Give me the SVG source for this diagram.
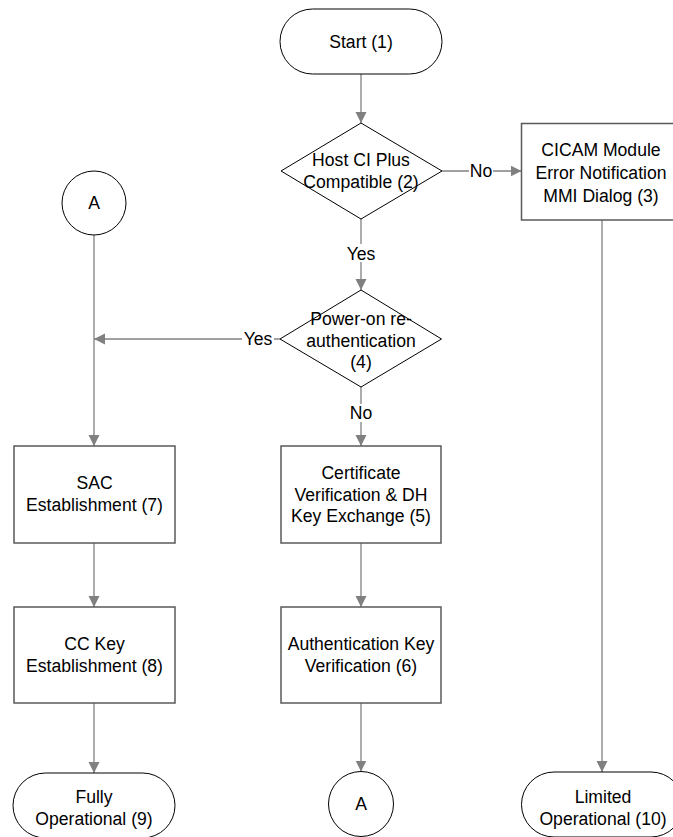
<svg xmlns="http://www.w3.org/2000/svg" width="673" height="837" viewBox="0 0 673 837">
<defs>
<style>
.t{font-family:"Liberation Sans",Arial,sans-serif;font-size:17.6px;fill:#000;text-anchor:middle}
.sh{fill:#fff;stroke:#000;stroke-width:1}
.bx{fill:#fff;stroke:#5a5a5a;stroke-width:1.5}
.c{fill:none;stroke:#808080;stroke-width:1.3}
.lb{fill:#fff;stroke:none}
</style>
<marker id="ah" markerUnits="userSpaceOnUse" markerWidth="12" markerHeight="12" refX="11" refY="5.5" orient="auto">
<path d="M0,0 L11,5.5 L0,11 Z" fill="#808080"/>
</marker>
</defs>
<rect width="673" height="837" fill="#fff"/>

<g id="connectors">
<line class="c" x1="361" y1="74" x2="361" y2="123" marker-end="url(#ah)"/>
<line class="c" x1="442" y1="171" x2="521.5" y2="171" marker-end="url(#ah)"/>
<line class="c" x1="361" y1="219" x2="361" y2="290" marker-end="url(#ah)"/>
<line class="c" x1="280" y1="339" x2="94" y2="339" marker-end="url(#ah)"/>
<line class="c" x1="94" y1="235" x2="94" y2="446" marker-end="url(#ah)"/>
<line class="c" x1="361" y1="387" x2="361" y2="446" marker-end="url(#ah)"/>
<line class="c" x1="94" y1="543" x2="94" y2="607" marker-end="url(#ah)"/>
<line class="c" x1="361" y1="543" x2="361" y2="607" marker-end="url(#ah)"/>
<line class="c" x1="94" y1="703" x2="94" y2="773" marker-end="url(#ah)"/>
<line class="c" x1="361" y1="703" x2="361" y2="771.5" marker-end="url(#ah)"/>
<line class="c" x1="602" y1="220" x2="602" y2="772" marker-end="url(#ah)"/>
<rect class="lb" x="469" y="162" width="24" height="18"/>
<text class="t" x="481" y="177">No</text>
<rect class="lb" x="345" y="244" width="32" height="18"/>
<text class="t" x="361" y="260">Yes</text>
<rect class="lb" x="242" y="330" width="32" height="18"/>
<text class="t" x="258" y="345">Yes</text>
<rect class="lb" x="349" y="404" width="24" height="18"/>
<text class="t" x="361" y="419">No</text>
</g>

<g id="n1">
<rect class="sh" x="280" y="9" width="162" height="65" rx="32.5" ry="32.5"/>
<text class="t" x="361" y="47.5">Start (1)</text>
</g>

<g id="n2">
<polygon class="sh" points="361,123 442,171 361,219 281,171"/>
<text class="t" x="361" y="166">Host CI Plus</text>
<text class="t" x="361" y="188">Compatible (2)</text>
</g>

<g id="n3">
<rect class="bx" x="521.5" y="123.5" width="161" height="96.5"/>
<text class="t" x="601" y="156">CICAM Module</text>
<text class="t" x="601" y="179">Error Notification</text>
<text class="t" x="601" y="202">MMI Dialog (3)</text>
</g>

<g id="nA1">
<circle class="sh" cx="94" cy="203" r="32"/>
<text class="t" x="94" y="209">A</text>
</g>

<g id="n4">
<polygon class="sh" points="361,290 441.5,339 361,387 280,339"/>
<text class="t" x="361" y="325">Power-on re-</text>
<text class="t" x="361" y="347">authentication</text>
<text class="t" x="361" y="368">(4)</text>
</g>

<g id="n7">
<rect class="bx" x="14" y="446" width="161" height="97"/>
<text class="t" x="94.5" y="489">SAC</text>
<text class="t" x="94.5" y="511">Establishment (7)</text>
</g>

<g id="n5">
<rect class="bx" x="281" y="446" width="160" height="97"/>
<text class="t" x="361" y="479">Certificate</text>
<text class="t" x="361" y="501">Verification &amp; DH</text>
<text class="t" x="361" y="522">Key Exchange (5)</text>
</g>

<g id="n8">
<rect class="bx" x="14" y="607" width="161" height="96"/>
<text class="t" x="94.5" y="650">CC Key</text>
<text class="t" x="94.5" y="672">Establishment (8)</text>
</g>

<g id="n6">
<rect class="bx" x="281" y="607" width="160" height="96"/>
<text class="t" x="361" y="650">Authentication Key</text>
<text class="t" x="361" y="672">Verification (6)</text>
</g>

<g id="n9">
<rect class="sh" x="13" y="773" width="162" height="65" rx="32.5" ry="32.5"/>
<text class="t" x="94" y="803">Fully</text>
<text class="t" x="94" y="825">Operational (9)</text>
</g>

<g id="nA2">
<circle class="sh" cx="361" cy="804" r="32.5"/>
<text class="t" x="361" y="810">A</text>
</g>

<g id="n10">
<rect class="sh" x="521.5" y="772" width="162" height="65" rx="32.5" ry="32.5"/>
<text class="t" x="603" y="803">Limited</text>
<text class="t" x="603" y="825">Operational (10)</text>
</g>
</svg>
